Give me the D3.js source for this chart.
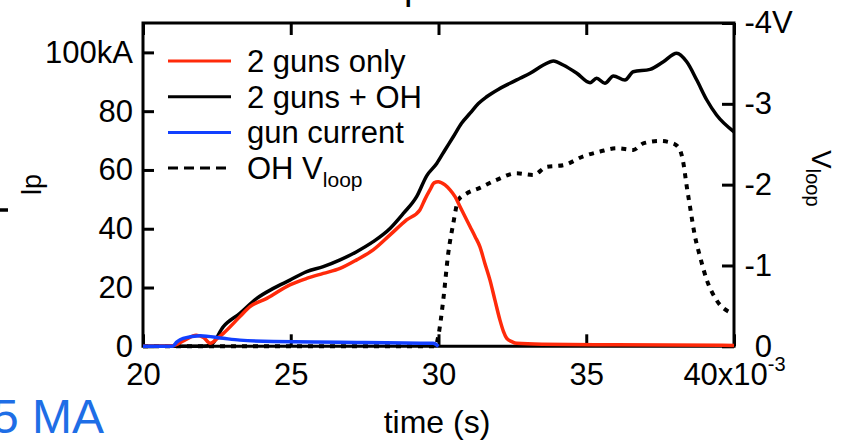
<!DOCTYPE html>
<html>
<head>
<meta charset="utf-8">
<script src="https://cdn.jsdelivr.net/npm/d3@7"></script>
<style>
  body { margin: 0; background: #fff; }
  svg { display: block; font-family: "Liberation Sans", Arial, sans-serif; }
</style>
</head>
<body>
<svg id="chart" width="844" height="441"></svg>
<script>
// values (time in 1e-3 s, current in kA, loop voltage in V)
var blackT = [20, 21, 22, 22.3, 22.72, 23.28, 23.85, 24.41, 24.97, 25.54, 26.10, 26.67, 27.23, 27.79, 28.36, 28.81, 29.26, 29.6, 29.94, 30.22, 30.50, 30.78, 31.07, 31.35, 31.63, 32.02, 32.42, 32.76, 33.10, 33.55, 33.89, 34.22, 34.68, 35.13, 35.35, 35.63, 35.92, 36.31, 36.59, 37.16, 37.61, 38.06, 38.40, 38.74, 39.08, 39.41, 40];
var blackI = [0, 0, 0, 0.5, 6.7, 11.2, 16.3, 19.7, 22.5, 25.4, 27.1, 29.4, 32.2, 35.6, 40.1, 45.2, 50.9, 58.0, 62.2, 66.8, 71.3, 75.9, 79.3, 82.6, 84.9, 87.4, 89.5, 91.2, 92.9, 95.7, 97.1, 95.7, 92.9, 89.7, 91.2, 89.5, 92.0, 90.6, 93.4, 94.2, 96.8, 99.7, 96.8, 90.6, 83.8, 78.7, 73.0];

var redT = [20, 21.0, 21.4, 21.8, 22.05, 22.27, 22.5, 22.72, 23.28, 23.62, 24.19, 24.97, 25.54, 26.10, 26.67, 27.23, 27.79, 28.36, 28.92, 29.37, 29.54, 29.71, 29.85, 29.99, 30.22, 30.39, 30.56, 30.73, 30.90, 31.07, 31.24, 31.40, 31.57, 31.74, 31.91, 32.08, 32.2, 32.31, 32.48, 32.65, 33.5, 36, 40];
var redI = [0, 0.2, 2.0, 3.8, 3.0, 1.0, 2.5, 4.4, 10.1, 13.5, 16.3, 20.9, 23.1, 24.8, 26.5, 29.4, 32.8, 37.9, 43.0, 46.4, 50.0, 53.2, 55.6, 56.0, 54.9, 53.2, 50.9, 47.5, 44.1, 40.7, 37.3, 33.9, 28.2, 22.6, 15.7, 8.9, 5.0, 2.7, 1.6, 1.0, 0.7, 0.5, 0.3];

var blueT = [20, 21.0, 21.15, 21.36, 21.93, 22.72, 23.28, 24.41, 26.67, 29.82, 30.0];
var blueI = [0, 0, 1.5, 2.7, 3.6, 2.7, 2.1, 1.6, 1.4, 1.0, 0];

var vloopT = [20, 29.9, 29.99, 30.16, 30.33, 30.50, 30.67, 30.95, 31.40, 31.97, 32.64, 33.21, 33.66, 34.22, 34.90, 35.47, 36.03, 36.59, 36.93, 37.5, 37.95, 38.17, 38.29, 38.40, 38.51, 38.68, 38.85, 39.08, 39.41, 39.92];
var vloopV = [0, 0, -0.12, -0.57, -1.15, -1.52, -1.81, -1.89, -1.96, -2.06, -2.14, -2.12, -2.22, -2.24, -2.35, -2.41, -2.45, -2.43, -2.51, -2.54, -2.51, -2.43, -2.26, -1.98, -1.73, -1.36, -1.11, -0.82, -0.57, -0.41];

var xTicks = [20, 25, 30, 35, 40];
var xTickLabels = ["20", "25", "30", "35", "40x10"];
var xExponent = "-3";
var yTicks = [0, 20, 40, 60, 80, 100];
var yTickLabels = ["0", "20", "40", "60", "80", "100kA"];
var vTicks = [0, -1, -2, -3, -4];
var vTickLabels = ["0", "-1", "-2", "-3", "-4"];

var legendNames = ["2 guns only", "2 guns + OH", "gun current", "OH V"];
var legendColors = ["#ff2a0a", "#000000", "#1240ff", "#000000"];

var svg = d3.select("#chart");
var plotL = 143, plotR = 734, plotT = 23, plotB = 346.3;
var FONT = 31;

var x = d3.scaleLinear().domain([20, 40]).range([plotL, plotR]);
var y = d3.scaleLinear().domain([0, 110]).range([plotB, plotT]);
var v = d3.scaleLinear().domain([0, -4]).range([plotB, plotT]);

function zip(ts, vs) { return ts.map(function (t, i) { return [t, vs[i]]; }); }

var lineI = d3.line().x(function (d) { return x(d[0]); }).y(function (d) { return y(d[1]); })
    .curve(d3.curveMonotoneX);
var lineV = d3.line().x(function (d) { return x(d[0]); }).y(function (d) { return v(d[1]); })
    .curve(d3.curveMonotoneX);

// axes
function styleAxis(g) {
    g.attr("font-family", null).attr("font-size", null);
    g.select(".domain").remove();
    g.selectAll(".tick line").attr("stroke", "#000").attr("stroke-width", 3);
    g.selectAll(".tick text").attr("fill", "#000").attr("font-size", FONT);
}

var gx = svg.append("g").attr("transform", "translate(0," + plotB + ")")
    .call(d3.axisBottom(x).tickValues(xTicks).tickSize(-12).tickPadding(17)
        .tickFormat(function (d, i) { return xTickLabels[i]; }))
    .call(styleAxis);
gx.selectAll(".tick text").filter(function (d) { return d === 40; })
    .attr("text-anchor", "middle")
    .append("tspan").attr("font-size", 20).attr("dy", -14).text(xExponent);

svg.append("g").attr("transform", "translate(0," + plotT + ")")
    .call(d3.axisTop(x).tickValues(xTicks).tickSize(-12).tickFormat(""))
    .call(styleAxis);

svg.append("g").attr("transform", "translate(" + plotL + ",0)")
    .call(d3.axisLeft(y).tickValues(yTicks).tickSize(-11).tickPadding(10)
        .tickFormat(function (d, i) { return yTickLabels[i]; }))
    .call(styleAxis);

var gv = svg.append("g").attr("transform", "translate(" + plotR + ",0)")
    .call(d3.axisRight(v).tickValues(vTicks).tickSize(-12).tickPadding(9)
        .tickFormat(function (d, i) { return vTickLabels[i]; }))
    .call(styleAxis);
gv.selectAll(".tick text").attr("text-anchor", "end").attr("x", 38);
gv.selectAll(".tick").filter(function (d) { return d === -4; })
    .append("text").attr("x", 38).attr("dy", "0.32em").attr("font-size", FONT)
    .attr("fill", "#000").text("V");

// frame
svg.append("path")
    .attr("d", "M" + plotL + "," + plotB + "V" + plotT + "H" + plotR + "V" + plotB + "Z")
    .attr("fill", "none").attr("stroke", "#000").attr("stroke-width", 3);

// data
svg.append("path").datum(zip(vloopT, vloopV))
    .attr("d", lineV).attr("fill", "none").attr("stroke", "#000")
    .attr("stroke-width", 4).attr("stroke-dasharray", "5,6");
svg.append("path").datum(zip(blackT, blackI))
    .attr("d", lineI).attr("fill", "none").attr("stroke", legendColors[1])
    .attr("stroke-width", 3.5).attr("stroke-linejoin", "round");
svg.append("path").datum(zip(redT, redI))
    .attr("d", lineI).attr("fill", "none").attr("stroke", legendColors[0])
    .attr("stroke-width", 3.5).attr("stroke-linejoin", "round");
svg.append("path").datum(zip(blueT, blueI))
    .attr("d", lineI).attr("fill", "none").attr("stroke", legendColors[2])
    .attr("stroke-width", 3.5).attr("stroke-linejoin", "round");

// legend
var leg = svg.append("g").selectAll("g").data(legendNames).enter().append("g")
    .attr("transform", function (d, i) { return "translate(168," + (61 + i * 35.7) + ")"; });
leg.append("line").attr("x1", 0).attr("x2", 63)
    .attr("stroke", function (d, i) { return legendColors[i]; })
    .attr("stroke-width", 3)
    .attr("stroke-dasharray", function (d, i) { return i === 3 ? "10,6" : null; });
var legText = leg.append("text").attr("x", 79).attr("dy", "0.35em")
    .attr("font-size", FONT).text(function (d) { return d; });
legText.filter(function (d, i) { return i === 3; })
    .append("tspan").attr("font-size", 21).attr("dy", 8).text("loop");

// axis titles
svg.append("text").attr("x", 437).attr("y", 433).attr("text-anchor", "middle")
    .attr("font-size", 32).text("time (s)");
svg.append("text").attr("transform", "translate(41,195) rotate(-90)")
    .attr("font-size", 27).text("lp");
var vt = svg.append("text").attr("transform", "translate(812,150) rotate(90)")
    .attr("font-size", 28).text("V");
vt.append("tspan").attr("font-size", 20).attr("dy", 6).text("loop");

// cropped pieces around the panel
svg.append("text").attr("x", 404).attr("y", -1).attr("font-size", 38).text("p");
svg.append("line").attr("x1", 0).attr("x2", 8).attr("y1", 210).attr("y2", 210)
    .attr("stroke", "#000").attr("stroke-width", 3.5);
svg.append("text").attr("x", 104).attr("y", 433).attr("text-anchor", "end")
    .attr("font-size", 48).attr("fill", "#1e6ee6").text("5 MA");
</script>
</body>
</html>
